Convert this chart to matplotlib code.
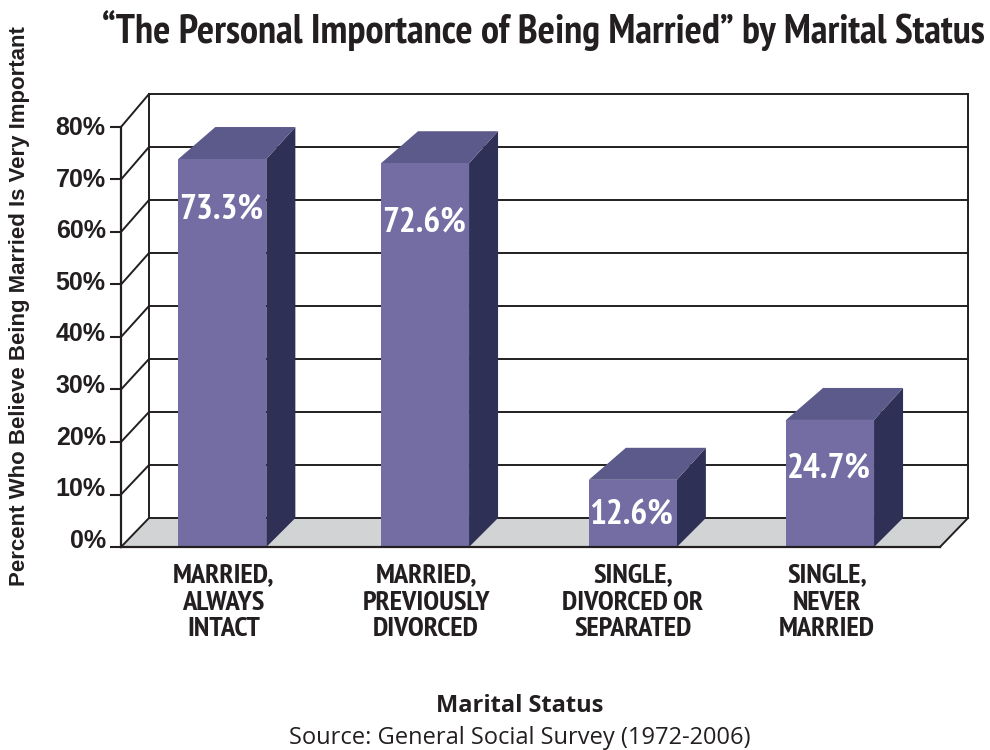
import matplotlib
matplotlib.use("Agg")
import matplotlib.pyplot as plt
from matplotlib.patches import Polygon

categories = ["MARRIED,\nALWAYS\nINTACT", "MARRIED,\nPREVIOUSLY\nDIVORCED",
              "SINGLE,\nDIVORCED OR\nSEPARATED", "SINGLE,\nNEVER\nMARRIED"]
value_labels = ["73.3%", "72.6%", "12.6%", "24.7%"]
bar_heights = [73.9, 73.1, 12.8, 24.2]  # as drawn, not quite the printed numbers
y_ticks = [0, 10, 20, 30, 40, 50, 60, 70, 80]

W, H = 990, 750
INK = "#231f20"
FRONT, TOP, SIDE, FLOOR = "#736da3", "#5b5a8a", "#2e3055", "#d1d3d4"
NARROW = ["PT Sans Narrow", "Liberation Sans", "DejaVu Sans"]


def rect(x0, x1, ytop, ybot):
    return [x0 / W, 1 - ybot / H, (x1 - x0) / W, (ybot - ytop) / H]


fig = plt.figure(figsize=(W / 100, H / 100), dpi=100, facecolor="white")
front = fig.add_axes(rect(121, 940, 127, 547))  # front plane
back = fig.add_axes(rect(149, 968, 94, 518))    # back wall, same scale
for a in (front, back):
    a.set_xlim(-0.5, 3.5)
    a.set_ylim(0, 80)
back.axis("off")
front.patch.set_alpha(0)
px = 4 / 819  # one pixel in category units


def on_back(x, y):
    return front.transData.inverted().transform(back.transData.transform((x, y)))


# floor
floor_pts = [(-0.5, 0), (3.5, 0), on_back(3.5, 0), on_back(-0.5, 0)]
front.add_patch(Polygon(floor_pts, closed=True, fc=FLOOR, ec="none", zorder=1, clip_on=False))

# walls
for v in y_ticks:
    a, b = on_back(-0.5, v), on_back(3.5, v)
    front.plot([a[0], b[0]], [a[1], b[1]], color=INK, lw=1.4, zorder=2, clip_on=False)
    front.plot([-0.5, a[0]], [v, a[1]], color=INK, lw=1.4, zorder=2, clip_on=False)
for edge in (-0.5, 3.5):
    a, b = on_back(edge, 0), on_back(edge, 80)
    front.plot([a[0], b[0]], [a[1], b[1]], color=INK, lw=1.4, zorder=2, clip_on=False)
a = on_back(3.5, 0)
front.plot([3.5, a[0]], [0, a[1]], color=INK, lw=1.4, zorder=2, clip_on=False)

# bars
bar_w = 88 * px
nudge = [-0.005, -0.015, 0.0, -0.037]
label_drop = [50, 60, 36, 49]
cat_nudge = [1, 1, 0, -3]
for i, h in enumerate(bar_heights):
    x0 = i + nudge[i] - bar_w / 2
    x1 = x0 + bar_w
    dx = 29 * px
    dy = 29 / 5.25
    dy_top = 32 / 5.25
    lean = 37 * px
    front.add_patch(Polygon([(x1, 0), (x1 + dx, dy), (x1 + dx, h + dy_top), (x1, h)],
                            fc=SIDE, ec="none", zorder=3, clip_on=False))
    front.add_patch(Polygon([(x0, h), (x0 + lean, h + dy_top), (x1 + dx, h + dy_top), (x1, h)],
                            fc=TOP, ec="none", zorder=3, clip_on=False))
    front.bar(x0, h, width=bar_w, align="edge", color=FRONT, zorder=4, clip_on=False)
    front.annotate(value_labels[i], ((x0 + x1) / 2, h), xytext=(-1, -label_drop[i] * 0.72),
                   textcoords="offset points", ha="center", va="center", color="white",
                   fontsize=25.5, fontweight="bold", family=NARROW, zorder=5)
    front.annotate(categories[i], ((x0 + x1) / 2, 0), xytext=(cat_nudge[i] * 0.72, -12),
                   textcoords="offset points", ha="center", va="top", color=INK,
                   fontsize=20.5, fontweight="bold", family=NARROW, linespacing=1.15,
                   annotation_clip=False)

# front axis
for s in ("top", "right"):
    front.spines[s].set_visible(False)
for s in ("left", "bottom"):
    front.spines[s].set_color(INK)
    front.spines[s].set_linewidth(1.6)
    front.spines[s].set_zorder(6)
front.set_xticks([])
front.set_yticks(y_ticks)
front.set_yticklabels([])
front.tick_params(axis="y", length=8, width=1.5, color=INK)
for v in y_ticks:
    front.annotate(f"{v}%", (0, v), xycoords=front.get_yaxis_transform(),
                   xytext=(-11, (6 - v * 0.0875) * 0.72), textcoords="offset points",
                   ha="right", va="center", fontsize=18, fontweight="bold",
                   family="Liberation Sans", color=INK, annotation_clip=False)

fig.text(543 / W, 1 - 30 / H, "\u201cThe Personal Importance of Being Married\u201d by Marital Status",
         ha="center", va="center", fontsize=29.1, fontweight="bold", family=NARROW, color=INK)
fig.text(20 / W, 1 - 306 / H, "Percent Who Believe Being Married Is Very Important", rotation=90,
         ha="center", va="center", fontsize=16, fontweight="bold", family="Liberation Sans", color=INK)
fig.text(520 / W, 1 - 706 / H, "Marital Status", ha="center", va="center",
         fontsize=17, fontweight="bold", family="Open Sans", color=INK)
fig.text(520 / W, 1 - 738 / H, "Source: General Social Survey (1972-2006)", ha="center", va="center",
         fontsize=17, family="Open Sans", color=INK)

fig.savefig("out.png", dpi=100)
